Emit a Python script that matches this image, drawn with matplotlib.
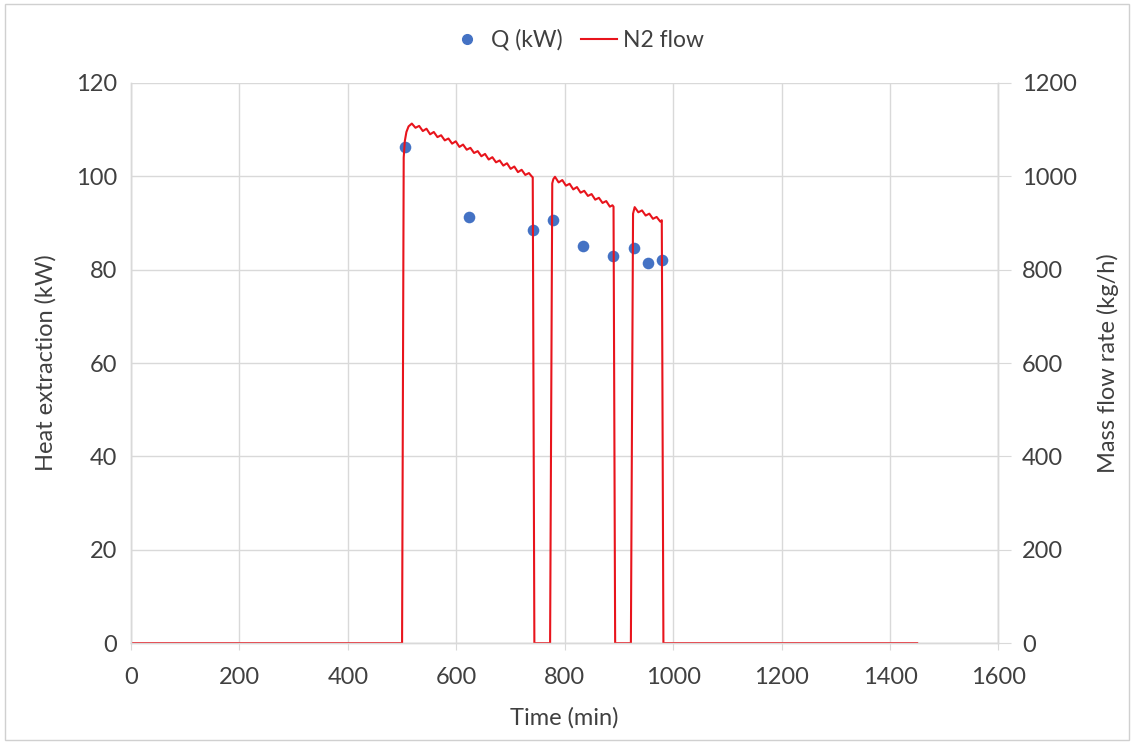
import numpy as np
import matplotlib
matplotlib.use("Agg")
import matplotlib.pyplot as plt
from matplotlib.lines import Line2D
from matplotlib.patches import Rectangle

plt.rcParams["font.family"] = ["Lato", "DejaVu Sans"]

# heat extraction measurements
q_time = [505.6, 623.9, 741.4, 778.1, 834.3, 889.4, 927.5, 953.7, 980.2]
q_kw = [106.3, 91.2, 88.4, 90.7, 85.0, 83.0, 84.6, 81.4, 82.1]

n2_time = [
    0, 500, 503, 505, 508, 512, 518,
    524.75, 531.5, 538.25, 545, 551.75, 558.5, 565.25, 572, 578.75, 585.5,
    592.25, 599, 605.75, 612.5, 619.25, 626, 632.75, 639.5, 646.25, 653,
    659.75, 666.5, 673.25, 680, 686.75, 693.5, 700.25, 707, 713.75, 720.5,
    727.25, 734, 739, 741, 744,
    773, 777, 779, 782,
    788.75, 795.5, 802.25, 809, 815.75, 822.5, 829.25, 836, 842.75, 849.5,
    856.25, 863, 869.75, 876.5, 883.25, 888, 890, 893,
    922, 926, 929,
    935.75, 942.5, 949.25, 956, 962.75, 969.5, 976.25, 979, 982,
    1450,
]
n2_flow = [
    0, 0, 1040, 1075, 1095, 1107, 1113,
    1104, 1108, 1097, 1102, 1090, 1095, 1084, 1088, 1077, 1081,
    1070, 1075, 1063, 1068, 1057, 1061, 1050, 1054, 1043, 1048,
    1036, 1041, 1030, 1034, 1023, 1028, 1016, 1021, 1009, 1014,
    1003, 1007, 1000, 998, 0,
    0, 985, 994, 999,
    987, 992, 980, 984, 972, 977, 965, 969, 958, 962,
    950, 954, 943, 947, 935, 938, 935, 0,
    0, 920, 934,
    923, 927, 916, 920, 909, 913, 903, 906, 0,
    0,
]

x_ticks = [0, 200, 400, 600, 800, 1000, 1200, 1400, 1600]
q_ticks = [0, 20, 40, 60, 80, 100, 120]
flow_ticks = [0, 200, 400, 600, 800, 1000, 1200]

blue = "#4472C4"
red = "#E8141C"
grid_c = "#D9D9D9"
text_c = "#404040"
fs = 17

fig = plt.figure(figsize=(11.34, 7.44), dpi=100)
fig.patches.append(Rectangle((0.004, 0.006), 0.992, 0.988, transform=fig.transFigure,
                             fill=False, edgecolor="#D0D0D0", linewidth=1.0))
ax = fig.add_axes([0.1155, 0.1355, 0.765, 0.753])
ax2 = ax.twinx()

ax.scatter(q_time, q_kw, s=70, color=blue, zorder=3, linewidths=0)
ax2.plot(n2_time, n2_flow, color=red, linewidth=1.5, zorder=2)

ax.set_xlim(0, 1600)
ax.set_ylim(0, 120)
ax2.set_ylim(0, 1200)
ax.set_xticks(x_ticks)
ax.set_yticks(q_ticks)
ax2.set_yticks(flow_ticks)

ax.grid(True, color=grid_c, linewidth=1.0)
ax.set_axisbelow(True)

for a in (ax, ax2):
    a.spines["top"].set_visible(False)
    for s in ("left", "right", "bottom"):
        a.spines[s].set_color(grid_c)
        a.spines[s].set_linewidth(1.0)

ax.tick_params(axis="y", length=0, pad=10, labelsize=fs, labelcolor=text_c)
ax.tick_params(axis="x", length=5, color=grid_c, pad=12, labelsize=fs, labelcolor=text_c)
ax2.tick_params(axis="y", length=9, color=grid_c, pad=8, labelsize=fs, labelcolor=text_c)

ax.set_xlabel("Time (min)", fontsize=fs, color=text_c, labelpad=14)
ax.set_ylabel("Heat extraction (kW)", fontsize=fs, color=text_c, labelpad=14)
ax2.set_ylabel("Mass flow rate (kg/h)", fontsize=fs, color=text_c, labelpad=14)

handles = [
    Line2D([], [], marker="o", linestyle="none", color=blue, markersize=7, label="Q (kW)"),
    Line2D([], [], color=red, linewidth=1.5, label="N2 flow"),
]
fig.legend(handles=handles, loc="center", bbox_to_anchor=(0.508, 0.946), ncol=2,
           frameon=False, fontsize=16.5, handlelength=1.6, handletextpad=0.25,
           columnspacing=0.8, labelcolor=text_c)

fig.savefig("out.png", dpi=100, facecolor="white")
